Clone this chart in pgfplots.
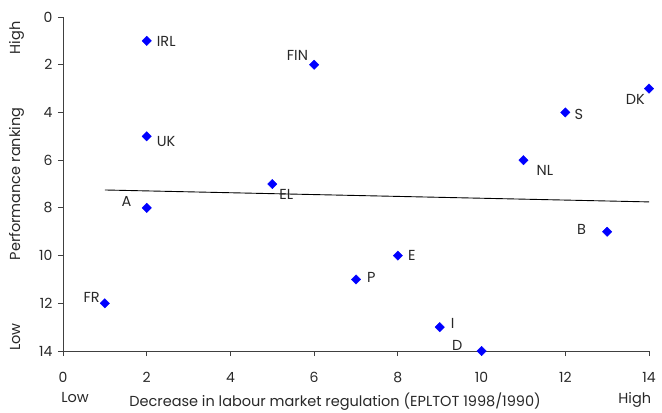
\documentclass[border=0pt]{standalone}
\usepackage{pgfplots}
\pgfplotsset{compat=1.18}
\usepackage{fontspec}
\setmainfont{Poppins}
\definecolor{txt}{RGB}{40,40,40}
\definecolor{axc}{RGB}{64,64,64}
\begin{document}
\begin{tikzpicture}[every node/.style={font=\fontsize{14.5}{16}\selectfont, text=txt}]
\begin{axis}[
  scale only axis, width=586pt, height=334pt,
  xmin=0, xmax=14, ymin=0, ymax=14, y dir=reverse,
  xtick={0,2,...,14}, ytick={0,2,...,14},
  axis x line*=bottom, axis y line*=left,
  axis line style={axc, line width=0.8pt},
  tick style={axc, line width=0.8pt}, tick align=outside, major tick length=5pt,
  ticklabel style={font=\fontsize{14}{16}\selectfont, text=txt},
  xticklabel style={yshift=-13pt},
  yticklabel style={xshift=-2pt},
  /pgf/number format/assume math mode=true,
  clip=false,
]
\addplot[black, line width=0.9pt] coordinates {(1,7.25) (14,7.75)};
\addplot[only marks, mark=square*, mark size=3.3pt, mark options={rotate=45, fill=blue, draw=blue}]
 coordinates {(2,1) (6,2) (14,3) (12,4) (2,5) (11,6) (5,7) (2,8) (13,9) (8,10) (7,11) (1,12) (9,13) (10,14)};
\begin{scope}[every node/.append style={inner sep=0pt}]
\node[anchor=west] at ([xshift=10pt,yshift=-1pt]axis cs:2,1) {IRL};
\node[anchor=east] at ([xshift=-6pt,yshift=9pt]axis cs:6,2) {FIN};
\node[anchor=east] at ([xshift=-4pt,yshift=-11pt]axis cs:14,3) {DK};
\node[anchor=west] at ([xshift=9pt,yshift=-2pt]axis cs:12,4) {S};
\node[anchor=west] at ([xshift=10pt,yshift=-5pt]axis cs:2,5) {UK};
\node[anchor=west] at ([xshift=13pt,yshift=-10pt]axis cs:11,6) {NL};
\node[anchor=west] at ([xshift=7pt,yshift=-10pt]axis cs:5,7) {EL};
\node[anchor=east] at ([xshift=-15pt,yshift=6pt]axis cs:2,8) {A};
\node[anchor=east] at ([xshift=-21pt,yshift=2pt]axis cs:13,9) {B};
\node[anchor=west] at ([xshift=10pt,yshift=0pt]axis cs:8,10) {E};
\node[anchor=west] at ([xshift=11pt,yshift=2pt]axis cs:7,11) {P};
\node[anchor=east] at ([xshift=-5pt,yshift=6pt]axis cs:1,12) {FR};
\node[anchor=west] at ([xshift=11pt,yshift=4pt]axis cs:9,13) {I};
\node[anchor=east] at ([xshift=-19pt,yshift=6pt]axis cs:10,14) {D};
\end{scope}
\node[rotate=90, anchor=base] at (axis cs:-1.027,7.0) {Performance ranking};
\node[rotate=90, anchor=base] at (axis cs:-1.027,0.88) {High};
\node[rotate=90, anchor=base] at (axis cs:-1.027,13.41) {Low};
\node at (axis cs:6.5,16.10) {Decrease in labour market regulation (EPLTOT 1998/1990)};
\node at (axis cs:0.29,15.93) {Low};
\node at (axis cs:13.66,16.05) {High};
\coordinate (bbA) at (axis cs:-1.505,-0.713);
\coordinate (bbB) at (axis cs:14.31,16.557);
\end{axis}
\pgfresetboundingbox
\useasboundingbox (bbA) rectangle (bbB);
\end{tikzpicture}
\end{document}
